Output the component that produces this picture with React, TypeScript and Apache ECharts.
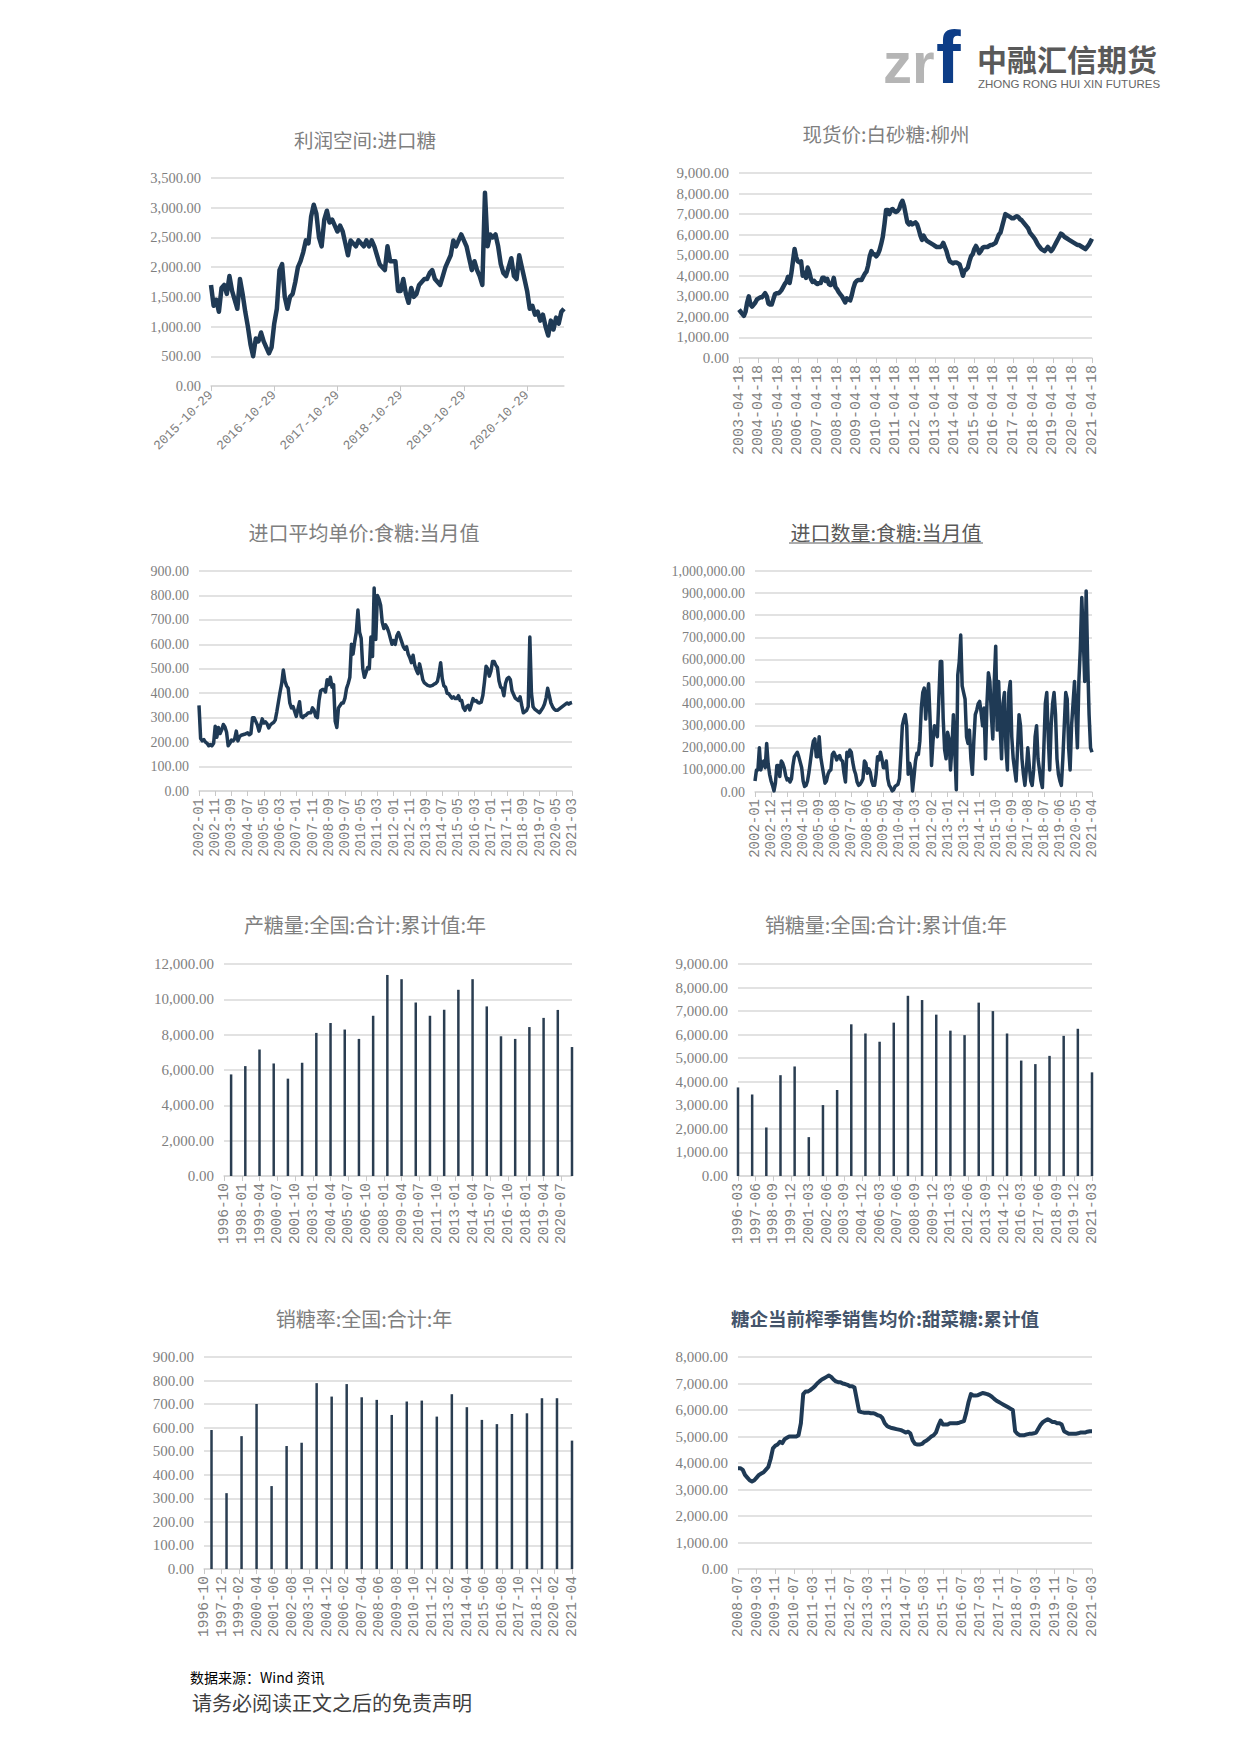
import React, { useEffect, useRef } from "react";
import * as echarts from "echarts";

// ---------- categories ----------
function monthly(y: number, m: number, n: number, day?: string): string[] {
  const out: string[] = [];
  for (let i = 0; i < n; i++) {
    const t = m - 1 + i;
    const yy = y + Math.floor(t / 12);
    const mm = (t % 12) + 1;
    out.push(`${yy}-${mm < 10 ? "0" + mm : mm}` + (day ? `-${day}` : ""));
  }
  return out;
}
function semiMonthly(y: number, m: number, n: number): string[] {
  const out: string[] = [];
  let yy = y, mm = m, second = true;
  for (let i = 0; i < n; i++) {
    const d = second ? (mm === 2 ? "28" : "29") : "14";
    out.push(`${yy}-${mm < 10 ? "0" + mm : mm}-${d}`);
    if (second) { mm++; if (mm > 12) { mm = 1; yy++; } }
    second = !second;
  }
  return out;
}

const profitDates = semiMonthly(2015, 10, 135);
const profitValues = [
  1700, 1350, 1450, 1250, 1650, 1700, 1550, 1850, 1600, 1450,
  1300, 1800, 1550, 1250, 1000, 700, 500, 800, 750, 900,
  750, 650, 550, 650, 1050, 1300, 1950, 2050, 1500, 1300,
  1500, 1550, 1750, 2000, 2100, 2250, 2450, 2400, 2850, 3050,
  2900, 2500, 2350, 2800, 2950, 2750, 2800, 2700, 2600, 2700,
  2600, 2400, 2200, 2450, 2400, 2350, 2450, 2400, 2350, 2450,
  2350, 2450, 2350, 2200, 2050, 2000, 1950, 2350, 2100, 2100,
  2100, 1600, 1600, 1800, 1550, 1400, 1650, 1500, 1550, 1700,
  1750, 1800, 1800, 1900, 1950, 1800, 1750, 1700, 1850, 2000,
  2100, 2200, 2450, 2350, 2450, 2550, 2450, 2350, 2150, 1950,
  2100, 1950, 1850, 1700, 3250, 2350, 2550, 2500, 2550, 2350,
  2050, 1900, 1850, 2000, 2150, 1850, 1800, 2200, 2000, 1800,
  1600, 1300, 1350, 1200, 1250, 1100, 1200, 1000, 850, 1100,
  950, 1150, 1050, 1250, 1300,
];

const spotDates = monthly(2003, 4, 217, "18");
const spotValues = [
  2350, 2250, 2150, 2050, 2250, 2700, 3000, 2600, 2500, 2600,
  2700, 2850, 2900, 2950, 2950, 3050, 3150, 3000, 2650, 2600,
  2600, 2850, 3100, 3150, 3150, 3200, 3300, 3450, 3600, 3700,
  3950, 3650, 4100, 4700, 5300, 4900, 4700, 4650, 4700, 4000,
  4150, 3900, 4400, 4200, 3850, 3700, 3750, 3650, 3600, 3650,
  3650, 3900, 3900, 3750, 3850, 3600, 3550, 3600, 3900, 3450,
  3350, 3200, 3100, 3000, 2850, 2700, 2900, 2850, 2800, 3050,
  3400, 3650, 3750, 3800, 3800, 3800, 3950, 4100, 4200, 4500,
  4950, 5200, 5050, 5050, 4950, 5050, 5250, 5550, 5900, 6500,
  7200, 7200, 7000, 7200, 7250, 7150, 7100, 7150, 7250, 7500,
  7650, 7400, 7000, 6600, 6500, 6600, 6500, 6550, 6600, 6500,
  6250, 5950, 5750, 5950, 5800, 5700, 5650, 5600, 5550, 5500,
  5450, 5400, 5400, 5400, 5450, 5600, 5400, 5200, 4900, 4700,
  4650, 4600, 4650, 4650, 4600, 4550, 4300, 4000, 4250, 4300,
  4400, 4700, 4950, 5050, 5300, 5450, 5300, 5100, 5200, 5350,
  5400, 5400, 5400, 5450, 5500, 5500, 5550, 5600, 5800, 6000,
  6100, 6400, 6700, 7000, 6950, 6900, 6850, 6800, 6800, 6850,
  6900, 6850, 6750, 6700, 6600, 6500, 6400, 6300, 6100, 6000,
  5900, 5800, 5650, 5500, 5400, 5300, 5250, 5200, 5300, 5400,
  5300, 5200, 5300, 5450, 5600, 5750, 5900, 6050, 6000, 5900,
  5850, 5800, 5750, 5700, 5650, 5600, 5550, 5500, 5500, 5450,
  5400, 5350, 5300, 5400, 5500, 5650, 5800,
];

const importPriceMonths = monthly(2002, 1, 231);
const importPriceValues = [
  350, 215, 205, 210, 200, 195, 185, 190, 185, 195,
  265, 220, 260, 235, 250, 272, 262, 240, 185, 195,
  208, 205, 213, 245, 205, 222, 228, 230, 232, 235,
  238, 230, 235, 300, 300, 285, 270, 245, 270, 295,
  278, 283, 275, 258, 270, 276, 280, 290, 325, 365,
  405, 440, 495, 450, 430, 420, 360, 340, 345, 325,
  305, 335, 365, 305, 300, 308, 310, 318, 320, 320,
  340, 330, 305, 300, 370, 410, 415, 415, 405, 455,
  435, 465, 425, 435, 285, 260, 340, 350, 360, 360,
  380, 420, 440, 465, 600, 560, 610, 650, 740, 650,
  625, 500, 465, 485, 505, 500, 630, 550, 830, 620,
  800, 785, 760, 690, 665, 680, 668, 650, 625, 600,
  615, 600, 635, 648, 630, 610, 590, 580, 590, 560,
  545, 525, 555, 515, 495, 480, 520, 490, 455, 442,
  437, 432, 430, 430, 432, 437, 440, 448, 480, 525,
  460, 430, 425, 400, 398, 388, 380, 385, 378, 378,
  390, 370, 370, 340, 330, 345, 350, 332, 355, 378,
  368, 370, 362, 360, 363, 390, 445, 510, 500, 470,
  490, 530, 530, 515, 505, 450, 425, 420, 390, 440,
  460, 465, 455, 410, 395, 380, 375, 370, 385, 350,
  320, 325, 330, 345, 630, 400, 345, 335, 330, 325,
  320, 330, 340, 355, 380, 420, 390, 360, 345, 335,
  330, 330, 335, 340, 345, 350, 355, 360, 355, 360,
  362,
];

const importQtyMonths = monthly(2002, 1, 232);
const importQtyValues = [
  50000, 100000, 100000, 200000, 100000, 130000, 140000, 110000, 220000, 130000,
  80000, 50000, 30000, 5000, 40000, 120000, 120000, 70000, 140000, 130000,
  110000, 75000, 55000, 60000, 45000, 60000, 120000, 160000, 170000, 180000,
  160000, 135000, 110000, 50000, 25000, 30000, 50000, 90000, 140000, 190000,
  230000, 240000, 160000, 160000, 250000, 160000, 120000, 80000, 40000, 50000,
  80000, 95000, 100000, 170000, 180000, 165000, 145000, 160000, 165000, 145000,
  140000, 85000, 45000, 180000, 160000, 190000, 180000, 135000, 100000, 80000,
  45000, 30000, 35000, 45000, 60000, 140000, 130000, 85000, 105000, 90000,
  50000, 30000, 30000, 80000, 160000, 145000, 180000, 150000, 110000, 110000,
  140000, 60000, 30000, 20000, 5000, 10000, 25000, 30000, 35000, 60000,
  170000, 300000, 330000, 350000, 300000, 80000, 130000, 100000, 5000, 70000,
  140000, 175000, 170000, 230000, 380000, 450000, 470000, 330000, 430000, 490000,
  330000, 120000, 230000, 300000, 280000, 250000, 420000, 590000, 590000, 330000,
  190000, 150000, 270000, 240000, 100000, 200000, 350000, 180000, 10000, 530000,
  590000, 710000, 480000, 450000, 420000, 250000, 220000, 280000, 150000, 80000,
  230000, 350000, 370000, 400000, 410000, 360000, 300000, 380000, 150000, 400000,
  540000, 500000, 350000, 240000, 500000, 660000, 280000, 500000, 300000, 150000,
  400000, 450000, 200000, 100000, 450000, 500000, 250000, 150000, 100000, 50000,
  200000, 350000, 300000, 150000, 80000, 30000, 100000, 200000, 120000, 50000,
  30000, 100000, 250000, 300000, 150000, 100000, 50000, 20000, 200000, 400000,
  450000, 250000, 100000, 300000, 400000, 450000, 350000, 150000, 80000, 50000,
  30000, 150000, 300000, 450000, 420000, 200000, 100000, 300000, 400000, 500000,
  350000, 200000, 500000, 650000, 880000, 700000, 500000, 910000, 600000, 350000,
  200000, 180000,
];

// annual bars
const outputMonths = monthly(1996, 10, 295);
const outputBarDates = Array.from({ length: 25 }, (_, i) => `${1997 + i}-04`);
const outputValues = [
  5750, 6220, 7160, 6370, 5510, 6410, 8100, 8660, 8290, 7760,
  9070, 11380, 11140, 9820, 9070, 9410, 10540, 11140, 9600, 7910,
  7760, 8430, 8950, 9400, 7300,
];

const salesMonths = monthly(1996, 3, 301);
const salesBarDates = Array.from({ length: 26 }, (_, i) => `${1996 + i}-03`);
const salesValues = [
  3760, 3460, 2060, 4280, 4650, 1650, 3010, 3650, 6440, 6050,
  5700, 6510, 7650, 7470, 6850, 6170, 5980, 7360, 7000, 6050,
  4900, 4750, 5100, 5950, 6250, 4400,
];

const rateMonths = monthly(1996, 10, 295);
const rateBarDates = Array.from({ length: 25 }, (_, i) => `${1997 + i}-04`);
const rateValues = [
  590, 322, 564, 700, 352, 522, 536, 789, 732, 785,
  729, 718, 654, 711, 715, 647, 742, 687, 633, 615,
  658, 661, 725, 725, 545,
];

const beetMonths = monthly(2008, 7, 153);
const beetValues = [
  3800, 3800, 3750, 3550, 3450, 3350, 3300, 3350, 3450, 3550,
  3600, 3650, 3750, 3850, 4150, 4550, 4650, 4700, 4800, 4750,
  4900, 4950, 5000, 5000, 5000, 5000, 5050, 5500, 6600, 6700,
  6700, 6750, 6820, 6900, 7000, 7080, 7150, 7200, 7250, 7300,
  7250, 7150, 7080, 7050, 7050, 7000, 6980, 6950, 6900, 6900,
  6850, 6400, 5950, 5920, 5900, 5900, 5900, 5880, 5880, 5850,
  5800, 5780, 5700, 5500, 5400, 5350, 5320, 5300, 5280, 5260,
  5240, 5200, 5150, 5180, 5120, 4850, 4720, 4700, 4700, 4720,
  4800, 4850, 4920, 5000, 5050, 5150, 5400, 5600, 5450, 5450,
  5450, 5500, 5500, 5500, 5500, 5520, 5550, 5580, 5900, 6300,
  6600, 6550, 6550, 6560, 6600, 6640, 6620, 6600, 6560, 6500,
  6420, 6350, 6300, 6250, 6200, 6150, 6100, 6050, 6000, 5200,
  5100, 5050, 5050, 5050, 5080, 5100, 5100, 5120, 5150, 5300,
  5450, 5550, 5600, 5650, 5600, 5550, 5550, 5500, 5500, 5450,
  5200, 5150, 5100, 5100, 5100, 5100, 5120, 5150, 5150, 5150,
  5180, 5200, 5200,
];

// ---------- styling helpers ----------
const LINE = "#1f3a55";
const BAR = "#2a3d51";
const GRAY = "#7f7f7f";
const CJK = "'Noto Sans CJK SC', sans-serif";

const fmt = (v: number) =>
  v.toLocaleString("en-US", { minimumFractionDigits: 2, maximumFractionDigits: 2 });

function sparse(cats: string[], dates: string[], vals: number[]) {
  const map: Record<string, number> = {};
  dates.forEach((d, i) => (map[d] = vals[i]));
  return cats.map((c) => (c in map ? map[c] : null));
}

function xAxis(i: number, data: string[], every: number, rotate: number, fs: number) {
  return {
    type: "category",
    gridIndex: i,
    data,
    boundaryGap: false,
    axisLine: { lineStyle: { color: "#d9d9d9", width: 1.5 } },
    axisTick: { show: true, interval: every - 1, length: 5, lineStyle: { color: "#c8c8c8" } },
    axisLabel: {
      interval: every - 1,
      rotate,
      color: GRAY,
      fontFamily: "'Liberation Mono', monospace",
      fontSize: fs,
      margin: 7,
    },
    splitLine: { show: false },
  };
}
function yAxis(i: number, max: number, interval: number, fs = 15) {
  return {
    type: "value",
    gridIndex: i,
    min: 0,
    max,
    interval,
    axisLine: { show: false },
    axisTick: { show: false },
    axisLabel: {
      color: GRAY,
      fontFamily: "'Liberation Serif', serif",
      fontSize: fs,
      margin: 10,
      formatter: (v: number) => fmt(v),
    },
    splitLine: { lineStyle: { color: "#d9d9d9", width: 1.5 } },
  };
}
function lineSeries(i: number, data: number[], width: number) {
  return {
    type: "line",
    xAxisIndex: i,
    yAxisIndex: i,
    data,
    symbol: "none",
    showSymbol: false,
    silent: true,
    lineStyle: { color: LINE, width, join: "round" },
    itemStyle: { color: LINE },
  };
}
function barSeries(i: number, data: (number | null)[]) {
  return {
    type: "bar",
    xAxisIndex: i,
    yAxisIndex: i,
    data,
    barWidth: 2.5,
    clip: false,
    silent: true,
    itemStyle: { color: BAR },
  };
}
function title(text: string, x: number, y: number, fs = 20, fill = GRAY, weight = "normal") {
  return {
    type: "text",
    x,
    y,
    style: {
      text,
      fontSize: fs,
      fontFamily: CJK,
      fontWeight: weight,
      fill,
      align: "center",
      verticalAlign: "middle",
    },
  };
}

export default function App() {
  const ref = useRef<HTMLDivElement>(null);
  useEffect(() => {
    if (!ref.current) return;
    const chart = echarts.init(ref.current, undefined, { renderer: "svg" });
    const option = {
      animation: false,
      backgroundColor: "#ffffff",
      grid: [
        { left: 211, top: 178, width: 353, height: 208 },
        { left: 739, top: 173, width: 353, height: 185 },
        { left: 199, top: 571, width: 373, height: 220 },
        { left: 755, top: 571, width: 337, height: 221 },
        { left: 224, top: 964, width: 348, height: 212 },
        { left: 738, top: 964, width: 354, height: 212 },
        { left: 204, top: 1357, width: 368, height: 212 },
        { left: 738, top: 1357, width: 354, height: 212 },
      ],
      xAxis: [
        xAxis(0, profitDates, 24, 45, 13),
        xAxis(1, spotDates, 12, 90, 15),
        xAxis(2, importPriceMonths, 10, 90, 14),
        xAxis(3, importQtyMonths, 11, 90, 14),
        xAxis(4, outputMonths, 15, 90, 14.5),
        xAxis(5, salesMonths, 15, 90, 14.5),
        xAxis(6, rateMonths, 14, 90, 14.5),
        xAxis(7, beetMonths, 8, 90, 14.5),
      ],
      yAxis: [
        yAxis(0, 3500, 500, 14.5),
        yAxis(1, 9000, 1000, 15),
        yAxis(2, 900, 100, 14),
        yAxis(3, 1000000, 100000, 14),
        yAxis(4, 12000, 2000, 15),
        yAxis(5, 9000, 1000, 15),
        yAxis(6, 900, 100, 15),
        yAxis(7, 8000, 1000, 15),
      ],
      series: [
        lineSeries(0, profitValues, 4.5),
        lineSeries(1, spotValues, 4.5),
        lineSeries(2, importPriceValues, 3.5),
        lineSeries(3, importQtyValues, 3.5),
        barSeries(4, sparse(outputMonths, outputBarDates, outputValues)),
        barSeries(5, sparse(salesMonths, salesBarDates, salesValues)),
        barSeries(6, sparse(rateMonths, rateBarDates, rateValues)),
        lineSeries(7, beetValues, 4),
      ],
      graphic: [
        // logo
        {
          type: "text", x: 883, y: 62,
          style: { text: "zr", fontSize: 58, fontWeight: "bold", fontFamily: "'Liberation Sans', sans-serif", fill: "#b5b5b5", align: "left", verticalAlign: "middle" },
        },
        {
          type: "text", x: 936, y: 57,
          style: { text: "f", fontSize: 74, fontWeight: "bold", fontFamily: "'Liberation Sans', sans-serif", fill: "#0d3d87", align: "left", verticalAlign: "middle" },
        },
        {
          type: "text", x: 977, y: 58,
          style: { text: "中融汇信期货", fontSize: 30, fontWeight: "bold", fontFamily: CJK, fill: "#595959", align: "left", verticalAlign: "middle" },
        },
        {
          type: "text", x: 978, y: 84,
          style: { text: "ZHONG RONG HUI XIN FUTURES", fontSize: 11.5, fontFamily: "'Liberation Sans', sans-serif", fill: "#666666", align: "left", verticalAlign: "middle" },
        },
        // titles
        title("利润空间:进口糖", 365, 139, 19.5),
        title("现货价:白砂糖:柳州", 886, 133, 19.5),
        title("进口平均单价:食糖:当月值", 364, 532, 20),
        title("进口数量:食糖:当月值", 886, 532, 20, "#595959"),
        { type: "line", shape: { x1: 789, y1: 543, x2: 983, y2: 543 }, style: { stroke: "#595959", lineWidth: 1 } },
        title("产糖量:全国:合计:累计值:年", 365, 924, 20),
        title("销糖量:全国:合计:累计值:年", 886, 924, 20),
        title("销糖率:全国:合计:年", 364, 1318, 20),
        title("糖企当前榨季销售均价:甜菜糖:累计值", 885, 1318, 18.5, "#44546a", "bold"),
        // footer
        {
          type: "text", x: 190, y: 1677,
          style: { text: "数据来源：Wind 资讯", fontSize: 14, fontFamily: CJK, fill: "#000000", align: "left", verticalAlign: "middle" },
        },
        {
          type: "text", x: 192, y: 1702,
          style: { text: "请务必阅读正文之后的免责声明", fontSize: 20, fontFamily: CJK, fill: "#3f3f3f", align: "left", verticalAlign: "middle" },
        },
      ],
    };
    chart.setOption(option as any);
    return () => chart.dispose();
  }, []);
  return (
    <div
      ref={ref}
      style={{ position: "absolute", left: 0, top: 0, width: 1240, height: 1753, background: "#fff" }}
    />
  );
}
